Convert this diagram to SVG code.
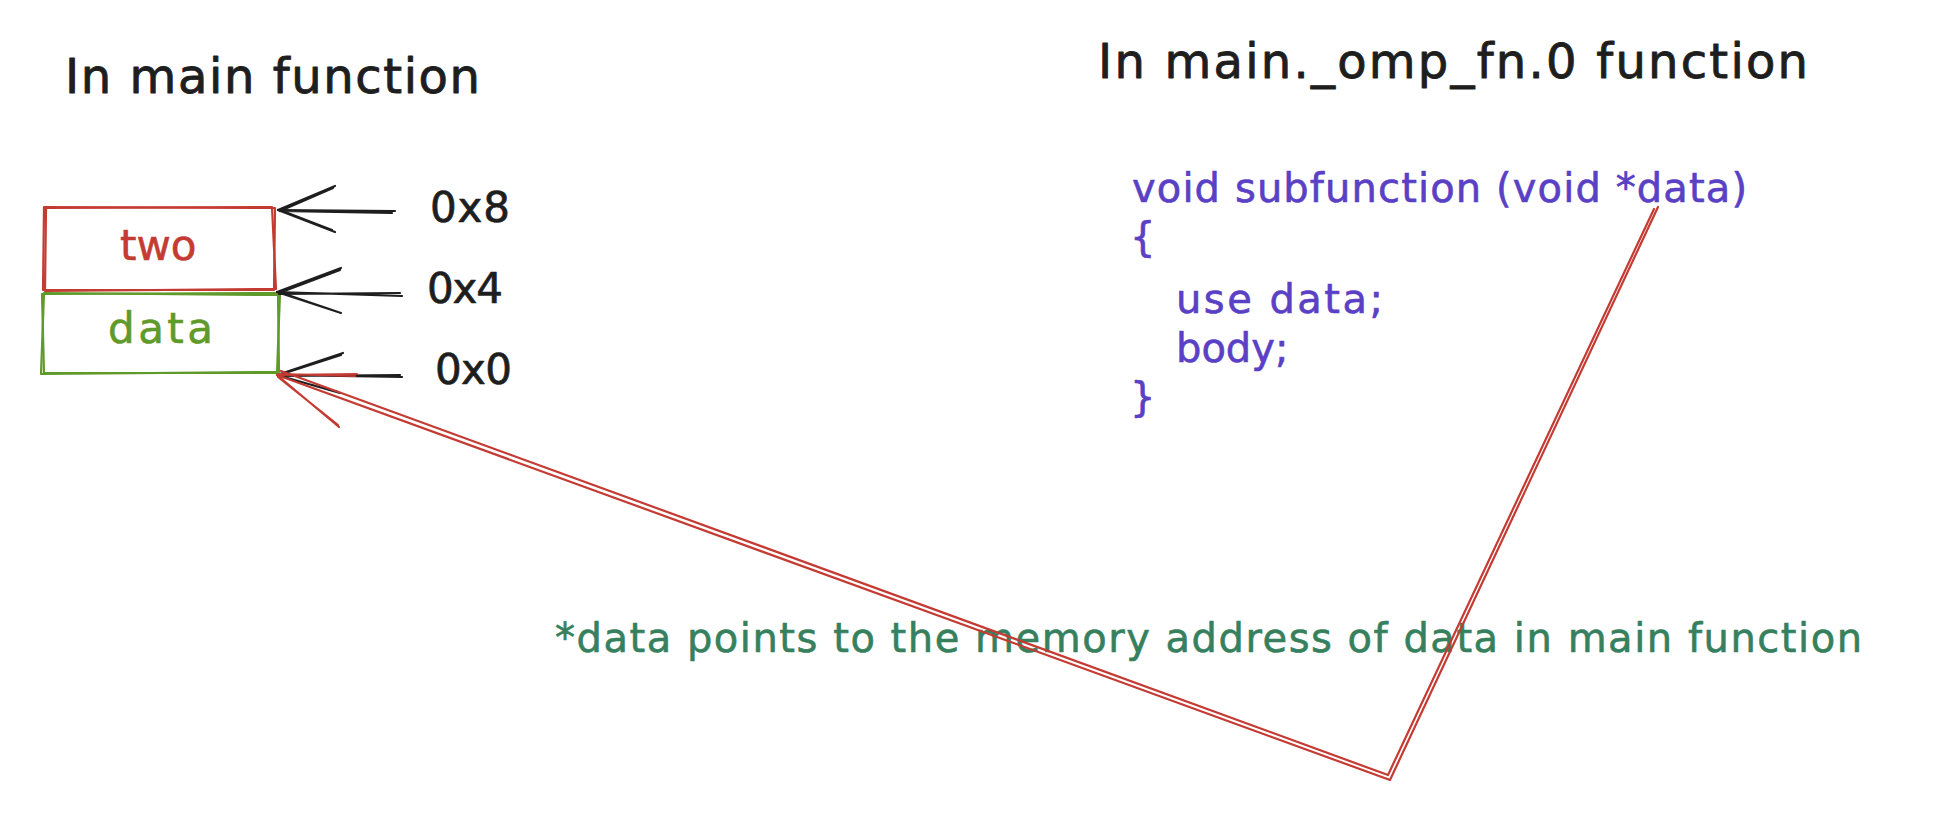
<svg xmlns="http://www.w3.org/2000/svg" width="1936" height="816" viewBox="0 0 1936 816">
<style>
  text { font-family: "DejaVu Sans", "Liberation Sans", sans-serif; stroke-linejoin: round; }
  .title { font-size: 48px; fill: #1e1e1e; stroke: #1e1e1e; stroke-width: 0.9; }
  .code { font-size: 40px; fill: #5940c4; stroke: #5940c4; stroke-width: 0.6; }
  .note { font-size: 40px; fill: #36805e; stroke: #36805e; stroke-width: 0.6; }
  .addr { font-size: 42px; fill: #1e1e1e; stroke: #1e1e1e; stroke-width: 0.7; }
  .two { font-size: 42px; fill: #c43b33; stroke: #c43b33; stroke-width: 0.6; }
  .data { font-size: 42px; fill: #5f9a2b; stroke: #5f9a2b; stroke-width: 0.6; }
  .sk { fill: none; stroke-linecap: round; stroke-linejoin: round; stroke-width: 2.2; }
  .blk { stroke: #1e1e1e; }
  .red { stroke: #c43b33; }
  .grn { stroke: #5f9a2b; }
</style>
<rect width="1936" height="816" fill="#ffffff"/>

<g id="title-main">
  <text class="title" x="65" y="93" textLength="415">In main function</text>
</g>
<g id="title-omp">
  <text class="title" x="1098" y="78" textLength="710">In main._omp_fn.0 function</text>
</g>

<g id="node-two">
  <path class="sk red" d="M44 207 L275 208 L274 290 L43 290 Z"/>
  <path class="sk red" d="M46 208 L272 207 L276 289 L45 291 Z"/>
  <text class="two" x="120" y="260">two</text>
</g>
<g id="node-data">
  <path class="sk grn" d="M42 294 L280 293 L277 373 L44 373 Z"/>
  <path class="sk grn" d="M44 293 L278 295 L279 372 L41 374 Z"/>
  <text class="data" x="108" y="343" textLength="105">data</text>
</g>

<g id="label-0x8"><text class="addr" x="430" y="222" textLength="80">0x8</text></g>
<g id="label-0x4"><text class="addr" x="427" y="303" textLength="76">0x4</text></g>
<g id="label-0x0"><text class="addr" x="435" y="384" textLength="77">0x0</text></g>

<g id="code">
  <text class="code" x="1132" y="202" textLength="615">void subfunction (void *data)</text>
  <text class="code" x="1130" y="251">{</text>
  <text class="code" x="1176" y="313" textLength="207">use data;</text>
  <text class="code" x="1176" y="362">body;</text>
  <text class="code" x="1130" y="411">}</text>
</g>

<g id="note">
  <text class="note" x="555" y="652" textLength="1307">*data points to the memory address of data in main function</text>
</g>

<g id="connectors">
  <g id="arrow-0x8">
    <path class="sk blk" d="M395 211 L278 210 M392 213 L280 211"/>
    <path class="sk blk" d="M278 210 L335 186 M280 211 L333 188 M278 210 L335 232 M280 210 L332 230"/>
  </g>
  <g id="arrow-0x4">
    <path class="sk blk" d="M402 296 L277 292 M400 293 L279 294"/>
    <path class="sk blk" d="M277 292 L341 268 M279 293 L340 270 M277 292 L341 313 M279 292 L338 312"/>
  </g>
  <g id="arrow-0x0">
    <path class="sk blk" d="M402 377 L277 375 M400 375 L280 376"/>
    <path class="sk blk" d="M277 375 L343 353 M279 375 L341 355 M277 375 L340 393 M279 376 L338 392"/>
  </g>
  <g id="arrow-pointer">
    <path class="sk red" stroke-width="2" d="M1658 207 L1390 780 L277 375"/>
    <path class="sk red" stroke-width="1.8" d="M1654 209 L1388 775 L281 371"/>
    <path class="sk red" stroke-width="2" d="M277 375 L357 374 M279 374 L355 376 M277 375 L339 427 M278 377 L338 425"/>
  </g>
</g>
</svg>
